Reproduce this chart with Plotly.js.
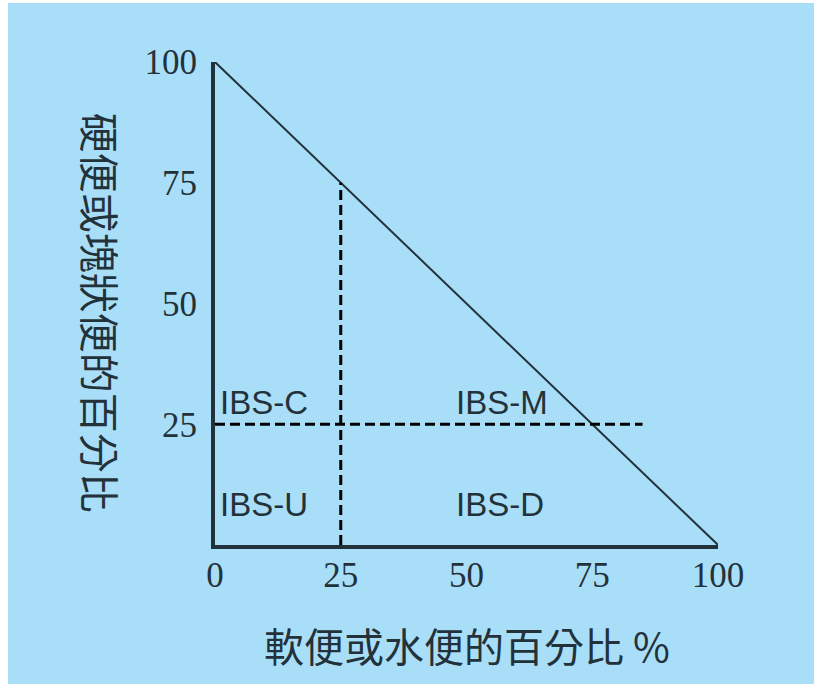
<!DOCTYPE html>
<html>
<head>
<meta charset="utf-8">
<script src="https://cdn.plot.ly/plotly-3.0.1.min.js"></script>
<style>
html,body{margin:0;padding:0;background:#ffffff;}
#chart{position:absolute;left:8px;top:3px;width:806px;height:681px;}
</style>
</head>
<body>
<div id="chart"></div>
<script>
// ---- data ----
var diagonalX = [0, 100];
var diagonalY = [100, 0];
var dashVX = [25, 25];
var dashVY = [0, 75];
var dashHX = [0, 85];
var dashHY = [25, 25];
var xTickVals = [0, 25, 50, 75, 100];
var xTickText = ['0', '25', '50', '75', '100'];
var yTickVals = [25, 50, 75, 100];
var yTickText = ['25', '50', '75', '100'];
var regionLabels = ['IBS-C', 'IBS-M', 'IBS-U', 'IBS-D'];
var regionX = [0.5, 47.5, 0.5, 47.5];
var regionY = [29.5, 29.5, 8.3, 8.3];
var xTitle = '軟便或水便的百分比 %';
var yTitle = '硬便或塊狀便的百分比';

var bg = '#a9def9';
var ink = '#23323a';
var cjk = '"Noto Sans CJK TC", "Noto Sans CJK SC", sans-serif';

var traces = [
  {x: diagonalX, y: diagonalY, mode: 'lines', line: {color: ink, width: 2}, cliponaxis: false, hoverinfo: 'skip'},
  {x: dashVX, y: dashVY, mode: 'lines', line: {color: '#000', width: 3, dash: '10px,5px'}, cliponaxis: false, hoverinfo: 'skip'},
  {x: dashHX, y: dashHY, mode: 'lines', line: {color: '#000', width: 3, dash: '10px,5px'}, cliponaxis: false, hoverinfo: 'skip'}
];

var annotations = regionLabels.map(function (t, i) {
  return {
    x: regionX[i], y: regionY[i], xref: 'x', yref: 'y', text: t, showarrow: false,
    xanchor: 'left', yanchor: 'middle',
    font: {family: '"Liberation Sans", Arial, sans-serif', size: 33, color: ink}
  };
});
annotations.push({
  x: 0.5, y: -0.207, xref: 'paper', yref: 'paper', text: xTitle, showarrow: false,
  xanchor: 'center', yanchor: 'middle', font: {family: cjk, size: 40, color: ink}
});
annotations.push({
  x: -0.226, y: 0.48, xref: 'paper', yref: 'paper', text: yTitle, showarrow: false,
  textangle: 90, xanchor: 'center', yanchor: 'middle', font: {family: cjk, size: 40, color: ink}
});

var layout = {
  width: 806, height: 681,
  margin: {l: 207, r: 96, t: 59, b: 139},
  paper_bgcolor: bg, plot_bgcolor: bg,
  showlegend: false,
  xaxis: {
    range: [0, 100], showgrid: false, zeroline: false,
    showline: true, linecolor: ink, linewidth: 4,
    tickmode: 'array', tickvals: xTickVals, ticktext: xTickText,
    ticks: '', ticklabelstandoff: -4,
    tickfont: {family: '"Liberation Serif", "Times New Roman", serif', size: 35, color: ink}
  },
  yaxis: {
    range: [0, 100], showgrid: false, zeroline: false,
    showline: true, linecolor: ink, linewidth: 4,
    tickmode: 'array', tickvals: yTickVals, ticktext: yTickText,
    ticks: '', ticklabelstandoff: 7,
    tickfont: {family: '"Liberation Serif", "Times New Roman", serif', size: 35, color: ink}
  },
  annotations: annotations
};

Plotly.newPlot('chart', traces, layout, {displayModeBar: false, staticPlot: true});
</script>
</body>
</html>
